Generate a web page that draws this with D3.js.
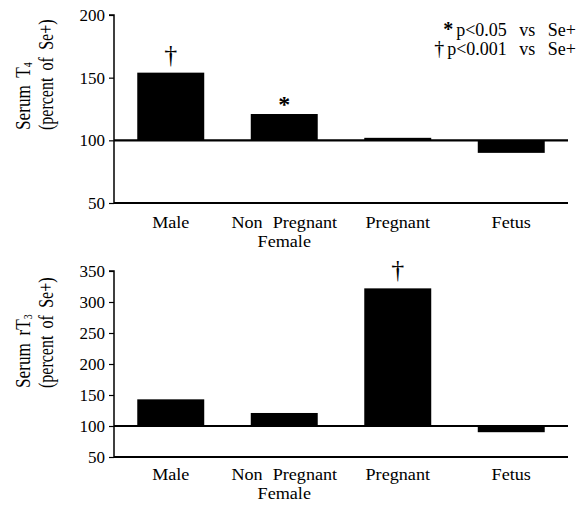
<!DOCTYPE html>
<html>
<head>
<meta charset="utf-8">
<script src="https://cdn.jsdelivr.net/npm/d3@7/dist/d3.min.js"></script>
<style>
  html, body { margin: 0; padding: 0; background: #fff; }
  svg { display: block; }
  text { font-family: "Liberation Serif", "Times New Roman", serif; fill: #000; }
</style>
</head>
<body>
<svg id="chart" width="581" height="505"></svg>
<script>
const categories = ["Male", "Non Pregnant|Female", "Pregnant", "Fetus"];
const t4Values = [154, 121, 102, 90];
const rt3Values = [143, 121, 322, 90];
const t4Marks = ["†", "*", "", ""];
const rt3Marks = ["", "", "†", ""];
const t4Ticks = [50, 100, 150, 200];
const rt3Ticks = [50, 100, 150, 200, 250, 300, 350];
const legendItems = [["*", "p<0.05 vs Se+"], ["†", "p<0.001 vs Se+"]];

const SERIF = '"Liberation Serif", "Times New Roman", serif';
const svg = d3.select("#chart");
const xLeft = 114, xRight = 568;

const x = d3.scaleBand().domain(categories).range([xLeft, xRight]).paddingInner(0.41).paddingOuter(0.205);

function panel(cfg) {
  const y = d3.scaleLinear().domain(cfg.domain).range(cfg.range);
  const g = svg.append("g");

  // y axis
  const yAxis = d3.axisLeft(y).tickValues(cfg.ticks).tickSize(5).tickPadding(4).tickFormat(d3.format("d"));
  const ga = g.append("g").attr("transform", `translate(${xLeft},0)`).call(yAxis)
    .attr("font-family", null).attr("font-size", null);
  ga.select(".domain").attr("stroke", "#000").attr("stroke-width", 1.5).attr("d", `M-5,${cfg.range[1]}H0V${cfg.range[0]}`);
  ga.selectAll(".tick line").attr("stroke", "#000").attr("stroke-width", 1.2);
  ga.selectAll(".tick text").style("font-size", "17px").style("font-family", SERIF).attr("fill", "#000");

  // x axis line at bottom
  g.append("line").attr("x1", xLeft).attr("x2", xRight)
    .attr("y1", y(cfg.domain[0])).attr("y2", y(cfg.domain[0]))
    .attr("stroke", "#000").attr("stroke-width", 1.8);

  // bars
  g.selectAll("rect.bar").data(cfg.values).join("rect")
    .attr("class", "bar")
    .attr("x", (d, i) => x(categories[i]))
    .attr("width", x.bandwidth())
    .attr("y", d => y(Math.max(d, 100)))
    .attr("height", d => Math.abs(y(d) - y(100)))
    .attr("fill", "#000");

  // reference line at 100
  g.append("line").attr("x1", xLeft).attr("x2", xRight)
    .attr("y1", y(100)).attr("y2", y(100))
    .attr("stroke", "#000").attr("stroke-width", 2.2);

  // significance marks
  g.selectAll("text.mark").data(cfg.marks).join("text")
    .attr("class", "mark")
    .attr("x", (d, i) => x(categories[i]) + x.bandwidth() / 2)
    .attr("y", (d, i) => y(cfg.values[i]) - (d === "*" ? 2 : 10))
    .attr("text-anchor", "middle")
    .style("font-size", d => d === "*" ? "24px" : "26px")
    .style("font-weight", d => d === "*" ? "bold" : "normal")
    .text(d => d);

  // category labels
  categories.forEach(c => {
    const lines = c.split("|");
    const cx = x(c) + x.bandwidth() / 2;
    const t = g.append("text")
      .attr("transform", `translate(${cx},${y(cfg.domain[0]) + cfg.labelOffset}) scale(1.1,1)`)
      .attr("text-anchor", "middle")
      .style("font-size", "16.5px")
      .style("word-spacing", "5px");
    lines.forEach((l, k) => {
      t.append("tspan").attr("x", 0).attr("dy", k === 0 ? 0 : 19).text(l);
    });
  });

  // y title
  const tg = g.append("g").attr("transform", `translate(0,${cfg.titleBottom})`);
  const t1 = tg.append("text").attr("transform", "translate(30,0) rotate(-90) scale(0.82,1)")
    .attr("text-anchor", "start").style("font-size", "21px").style("word-spacing", "4px");
  t1.append("tspan").text(cfg.titleMain);
  t1.append("tspan").attr("dy", 2).style("font-size", "12px").text(cfg.titleSub);
  tg.append("text").attr("transform", "translate(53,0) rotate(-90) scale(0.8,1)")
    .attr("text-anchor", "start").style("font-size", "20px").style("word-spacing", "4px")
    .text("(percent of Se+)");
}

panel({ domain: [50, 200], range: [203, 15], ticks: t4Ticks, values: t4Values, marks: t4Marks,
        labelOffset: 25, titleBottom: 130, titleMain: "Serum T", titleSub: "4" });
panel({ domain: [50, 350], range: [457, 271], ticks: rt3Ticks, values: rt3Values, marks: rt3Marks,
        labelOffset: 23, titleBottom: 388, titleMain: "Serum rT", titleSub: "3" });

// legend
const lg = svg.append("g");
legendItems.forEach((it, i) => {
  const t = lg.append("text").attr("x", 576).attr("y", 36 + i * 19).attr("text-anchor", "end")
    .style("font-size", "18px").style("word-spacing", "8px");
  t.append("tspan").style("font-size", "20px").style("font-weight", it[0] === "*" ? "bold" : "normal").text(it[0]);
  t.append("tspan").attr("dx", 3).text(it[1]);
});
</script>
</body>
</html>
